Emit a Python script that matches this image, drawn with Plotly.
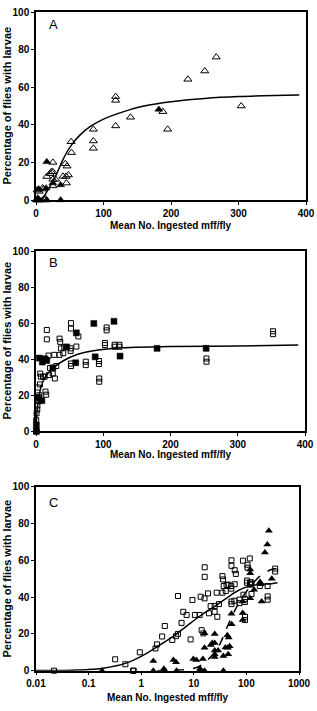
import plotly.graph_objects as go

# ---------------- data ----------------
# Series A (triangles) - open / filled as drawn in panel A
tri_open_x = [1.7, 2.8, 4.6, 4.7, 9.8, 11.2, 13.2, 13.2, 16, 21, 22.5, 25, 25, 25, 25, 29, 40, 43.5,
              44.5, 45, 46, 48, 52, 52.6, 85, 85, 85, 118, 118, 118, 140, 188, 195, 225, 250, 267, 304]
tri_open_y = [5.3, 0, 4.6, 0, 6.4, 5.8, 1, 0, 12.5, 14, 15, 20, 15, 11, 7.5, 11, 12.6, 19.3,
              12.5, 9, 18, 13.3, 31, 25.2, 37.6, 31.4, 27.5, 55, 53, 39.4, 44, 47, 37.6, 64.2, 68.6, 76, 50]
tri_filled_x = [0.18, 1.7, 2.7, 4.1, 14.9, 16, 16, 25, 36.5, 36.5, 182]
tri_filled_y = [0, 0, 1, 5.8, 6.3, 20.3, 0, 9, 8, 0, 48.2]

# Series B (squares) - open / filled as drawn in panel B
sq_open_x = [0.022, 0.32, 0.72, 0.94, 1.87, 2.0, 2.81, 3.9, 4.6, 5.0, 5.85, 6.3, 7.3, 10.5, 12.9, 14.1,
             15.2, 16.1, 16.1, 18.6, 19.4, 20.9, 24.9, 27.2, 28, 30.1, 35, 35, 36, 37, 40.5, 42,
             52, 52, 51.5, 51.5, 52, 52, 60, 63, 74, 74, 93.6, 93.6, 94, 94, 102.5, 102.5, 105, 105,
             117, 117, 124, 124, 253.5, 253.5, 352.5, 352.5]
sq_open_y = [0, 6.2, 0, 10, 12.1, 14.3, 24.3, 16.7, 18.8, 20, 26, 32, 30.3, 30.3, 30.3, 22,
             20.3, 56.2, 51, 42, 31.2, 35.1, 32, 42.4, 29.3, 36.2, 42.4, 51.4, 49.6, 46, 43.3, 46.6,
             60, 57, 46, 44.6, 37.6, 36.2, 47, 52.6, 38.6, 36.7, 39, 37.3, 29.3, 27.5, 49, 47.8, 57.6, 56,
             48, 46.9, 48, 46.9, 40.4, 38.6, 55.5, 53.9]
sq_filled_x = [0.7, 0.5, 2.5, 8.7, 5, 9.4, 13.5, 16, 25, 45.5, 59, 60, 86, 88, 116, 125, 180, 253]
sq_filled_y = [0, 3.5, 18.6, 17, 40.6, 38.4, 40.2, 39.3, 35.2, 46.8, 38, 54.6, 59.8, 41.3, 61, 41.7, 46, 46]

# fitted curves
fitA_x = [2, 5, 8, 12, 16, 21, 26, 32, 38, 45, 54, 65, 80, 100, 130, 160, 200, 250, 300, 390]
fitA_y = [0, 0.3, 0.8, 2, 4.5, 7.5, 10.5, 15, 20, 25, 30, 34.5, 39, 43, 47, 50, 52.3, 54, 55, 55.8]
fitB_x = [0.01, 0.05, 0.1, 0.2, 0.5, 1, 2, 4, 7.5, 13.5, 25, 40, 60, 90, 140, 200, 300, 390]
fitB_y = [0.1, 0.3, 0.6, 1.5, 4, 7.8, 13, 18.5, 24.5, 30, 35, 39, 42.5, 45, 46.5, 47, 47.3, 47.8]

lin_ticks = [0, 100, 200, 300, 400]
log_ticks = [0.01, 0.1, 1, 10, 100, 1000]
log_tick_text = ["0.01", "0.1", "1", "10", "100", "1000"]
y_ticks = [0, 20, 40, 60, 80, 100]
panel_labels = ["A", "B", "C"]
x_title = "Mean No. Ingested mff/fly"
y_title = "Percentage of flies with larvae"

# ---------------- figure ----------------
FONT = "Liberation Sans, Arial, sans-serif"
W, H = 317, 711
ML, MR, MT, MB = 36, 11, 12, 40
PW, PH = W - ML - MR, H - MT - MB


def py(p):  # pixel y -> paper y
    return (H - MB - p) / PH


def px(p):
    return (p - ML) / PW


fig = go.Figure()

mk_open_tri = dict(symbol="triangle-up-open", size=7, color="black", line=dict(width=1, color="black"))
mk_fill_tri = dict(symbol="triangle-up", size=7, color="black", line=dict(width=0.5, color="black"))
mk_open_sq = dict(symbol="square-open", size=5, color="black", line=dict(width=1, color="black"))
mk_fill_sq = dict(symbol="square", size=6, color="black", line=dict(width=0.5, color="black"))

# Panel A
fig.add_trace(go.Scatter(x=tri_open_x, y=tri_open_y, mode="markers", marker=mk_open_tri,
                         xaxis="x", yaxis="y", cliponaxis=False, showlegend=False))
fig.add_trace(go.Scatter(x=tri_filled_x, y=tri_filled_y, mode="markers", marker=mk_fill_tri,
                         xaxis="x", yaxis="y", cliponaxis=False, showlegend=False))
fig.add_trace(go.Scatter(x=fitA_x, y=fitA_y, mode="lines", line=dict(color="black", width=1.5, shape="spline"),
                         xaxis="x", yaxis="y", showlegend=False))
# Panel B
fig.add_trace(go.Scatter(x=sq_open_x, y=sq_open_y, mode="markers", marker=mk_open_sq,
                         xaxis="x2", yaxis="y2", cliponaxis=False, showlegend=False))
fig.add_trace(go.Scatter(x=sq_filled_x, y=sq_filled_y, mode="markers", marker=mk_fill_sq,
                         xaxis="x2", yaxis="y2", cliponaxis=False, showlegend=False))
fig.add_trace(go.Scatter(x=fitB_x, y=fitB_y, mode="lines", line=dict(color="black", width=1.5, shape="spline"),
                         xaxis="x2", yaxis="y2", showlegend=False))
# Panel C
fig.add_trace(go.Scatter(x=sq_open_x + sq_filled_x, y=sq_open_y + sq_filled_y, mode="markers",
                         marker=mk_open_sq, xaxis="x3", yaxis="y3", cliponaxis=False, showlegend=False))
fig.add_trace(go.Scatter(x=tri_open_x + tri_filled_x, y=tri_open_y + tri_filled_y, mode="markers",
                         marker=dict(symbol="triangle-up", size=7, color="black"),
                         xaxis="x3", yaxis="y3", cliponaxis=False, showlegend=False))
fig.add_trace(go.Scatter(x=fitB_x, y=fitB_y, mode="lines", line=dict(color="black", width=1.5, shape="spline"),
                         xaxis="x3", yaxis="y3", showlegend=False))
fig.add_trace(go.Scatter(x=fitA_x, y=fitA_y, mode="lines",
                         line=dict(color="black", width=1.5, dash="dash", shape="spline"),
                         xaxis="x3", yaxis="y3", showlegend=False))

tickfont = dict(family=FONT, size=10, color="black", weight="bold")
axcommon = dict(showline=True, linecolor="black", linewidth=1.5, mirror=True, showgrid=False,
                zeroline=False, ticks="outside", ticklen=3, tickwidth=1, tickcolor="black",
                tickfont=tickfont, automargin=False)

dom = {
    "A": [py(200), py(12)],
    "B": [py(431.3), py(251)],
    "C": [py(670.7), py(486.7)],
}

fig.update_layout(
    width=W, height=H,
    margin=dict(l=ML, r=MR, t=MT, b=MB),
    paper_bgcolor="white", plot_bgcolor="white",
    xaxis=dict(domain=[0, 1], range=[0, 400], tickvals=lin_ticks, anchor="y", **axcommon),
    yaxis=dict(domain=dom["A"], range=[0, 100], tickvals=y_ticks, anchor="x", **axcommon),
    xaxis2=dict(domain=[0, px(305)], range=[0, 400], tickvals=lin_ticks, anchor="y2", **axcommon),
    yaxis2=dict(domain=dom["B"], range=[0, 100], tickvals=y_ticks, anchor="x2", **axcommon),
    xaxis3=dict(domain=[0, px(299)], type="log", range=[-2, 3], tickvals=log_ticks, ticktext=log_tick_text,
                anchor="y3", **axcommon),
    yaxis3=dict(domain=dom["C"], range=[0, 100], tickvals=y_ticks, anchor="x3", **axcommon),
)

ann = []
title_font = dict(family=FONT, size=10, color="black", weight="bold")
ytitle_font = dict(family=FONT, size=11, color="black", weight="bold")
xcenters = [(36 + 306) / 2, (36 + 305) / 2, (36 + 299) / 2]
xtitle_y = [226, 455, 697]
ycenters = [106, 341, 579]
label_pos = [25, 262, 502]
for i in range(3):
    ann.append(dict(text=x_title, xref="paper", yref="paper", x=px(xcenters[i]), y=py(xtitle_y[i]),
                    xanchor="center", yanchor="middle", showarrow=False, font=title_font))
    ann.append(dict(text=y_title, xref="paper", yref="paper", x=px(6.5), y=py(ycenters[i]),
                    xanchor="center", yanchor="middle", textangle=-90, showarrow=False, font=ytitle_font))
    ann.append(dict(text=panel_labels[i], xref="paper", yref="paper", x=px(53.5), y=py(label_pos[i]),
                    xanchor="center", yanchor="middle", showarrow=False,
                    font=dict(family=FONT, size=13, color="black")))
fig.update_layout(annotations=ann)

fig.write_html("out.html")
